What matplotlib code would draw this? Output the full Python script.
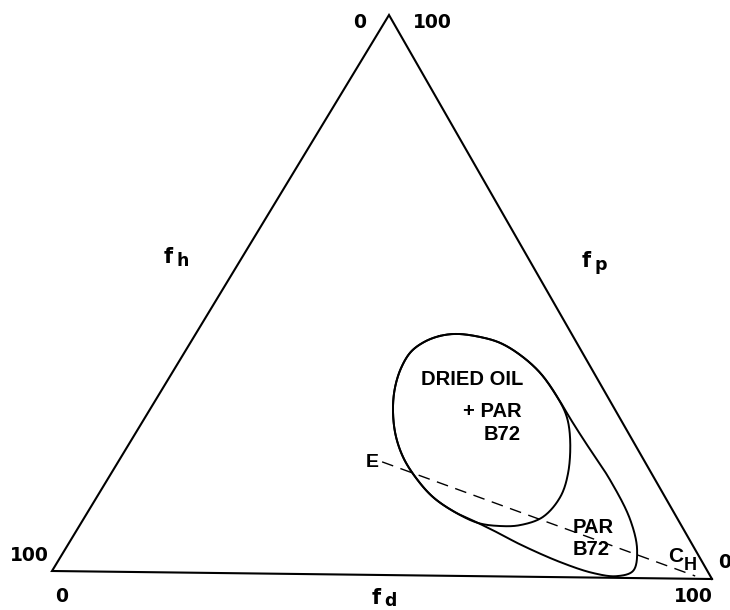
import numpy as np
import matplotlib
matplotlib.use("Agg")
import matplotlib.pyplot as plt

# Teas fractional solubility parameters in percent; fh = 100 - fd - fp
# Region: dried oil + Paraloid B72
oil_fd = [36.9, 39.3, 43.1, 46.6, 50.7, 55.4, 60.3, 63.4, 66.0, 68.7, 69.7,
          68.9, 66.2, 63.3, 59.7, 55.2, 50.6, 46.5, 42.6, 39.3, 36.6, 34.9,
          34.0, 34.0, 35.1]
oil_fp = [42.8, 43.2, 42.7, 41.7, 39.6, 36.4, 32.0, 28.6, 24.5, 18.6, 14.3,
          10.7, 9.2, 9.0, 9.5, 11.4, 14.0, 17.2, 20.9, 25.0, 29.5, 33.4,
          37.0, 39.9, 41.7]

# Region: Paraloid B72
b72_fd = [36.9, 39.3, 43.1, 46.6, 50.7, 55.4, 60.3, 64.3, 68.2, 75.6, 82.3,
          86.1, 87.4, 85.4, 81.6, 75.6, 67.9, 64.0, 59.7, 55.2, 50.6, 46.5,
          42.6, 39.3, 36.6, 34.9, 34.0, 34.0, 35.1]
b72_fp = [42.8, 43.2, 42.7, 41.7, 39.6, 36.4, 32.0, 28.1, 24.4, 17.5, 10.4,
          5.0, 1.3, 0.3, 0.8, 2.7, 5.8, 7.6, 9.5, 11.4, 14.0, 17.2, 20.9,
          25.0, 29.5, 33.4, 37.0, 39.9, 41.7]

# Line from E towards the hydrocarbon corner C_H
line_fd = [39.7, 97.2]
line_fp = [20.2, 0.5]

# Corner values
axis_min = "0"
axis_max = "100"

# Corner positions of the triangle on the canvas: fd = 100, fp = 100, fh = 100
CORNER_FD = np.array([712.0, 579.0])
CORNER_FP = np.array([389.0, 15.0])
CORNER_FH = np.array([52.0, 571.0])


def to_xy(fd, fp):
    fd = np.asarray(fd, float) / 100.0
    fp = np.asarray(fp, float) / 100.0
    fh = 1.0 - fd - fp
    x = fd * CORNER_FD[0] + fp * CORNER_FP[0] + fh * CORNER_FH[0]
    y = fd * CORNER_FD[1] + fp * CORNER_FP[1] + fh * CORNER_FH[1]
    return x, y


def smooth_closed(x, y, n=30, alpha=0.5):
    """Closed centripetal Catmull-Rom curve through the given points."""
    pts = np.column_stack([x, y])
    m = len(pts)
    segs = []
    for i in range(m):
        p0, p1, p2, p3 = pts[(i - 1) % m], pts[i], pts[(i + 1) % m], pts[(i + 2) % m]
        t0 = 0.0
        t1 = t0 + np.linalg.norm(p1 - p0) ** alpha
        t2 = t1 + np.linalg.norm(p2 - p1) ** alpha
        t3 = t2 + np.linalg.norm(p3 - p2) ** alpha
        t = np.linspace(t1, t2, n, endpoint=False)[:, None]
        a1 = (t1 - t) / (t1 - t0) * p0 + (t - t0) / (t1 - t0) * p1
        a2 = (t2 - t) / (t2 - t1) * p1 + (t - t1) / (t2 - t1) * p2
        a3 = (t3 - t) / (t3 - t2) * p2 + (t - t2) / (t3 - t2) * p3
        b1 = (t2 - t) / (t2 - t0) * a1 + (t - t0) / (t2 - t0) * a2
        b2 = (t3 - t) / (t3 - t1) * a2 + (t - t1) / (t3 - t1) * a3
        segs.append((t2 - t) / (t2 - t1) * b1 + (t - t1) / (t2 - t1) * b2)
    segs.append(pts[:1])
    out = np.vstack(segs)
    return out[:, 0], out[:, 1]


fig = plt.figure(figsize=(7.3, 6.1), dpi=100)
ax = fig.add_axes([0, 0, 1, 1])
ax.set_xlim(0, 730)
ax.set_ylim(610, 0)
ax.axis("off")

# Triangle outline
tx, ty = to_xy([100, 0, 0, 100], [0, 100, 0, 0])
ax.plot(tx, ty, color="black", lw=1.5, solid_joinstyle="miter")

# Solubility regions
for fd, fp in ((b72_fd, b72_fp), (oil_fd, oil_fp)):
    x, y = to_xy(fd, fp)
    sx, sy = smooth_closed(x, y)
    ax.plot(sx, sy, color="black", lw=1.4)

# Dashed E – C_H line
lx, ly = to_xy(line_fd, line_fp)
ax.plot(lx, ly, color="black", lw=1.0, linestyle=(0, (8.5, 5.5)))

num = dict(family="DejaVu Sans", fontweight="bold", fontsize=13.5,
           va="baseline", color="black")
ax.text(360, 28, axis_min, ha="center", **num)
ax.text(413, 28, axis_max, ha="left", **num)
ax.text(49, 561, axis_max, ha="right", **num)
ax.text(62, 602, axis_min, ha="center", **num)
ax.text(718, 568, axis_min, ha="left", **num)
ax.text(693, 602, axis_max, ha="center", **num)

# Axis names f_h, f_p, f_d
fbig = dict(family="DejaVu Sans", fontweight="bold", fontsize=15,
            va="baseline", ha="left", color="black")
fsub = dict(family="DejaVu Sans", fontweight="bold", fontsize=12.5,
            va="baseline", ha="left", color="black")
for (xf, yf, sub) in ((164, 263, "h"), (582, 267, "p"), (372, 604, "d")):
    ax.text(xf, yf, "f", **fbig)
    ax.text(xf + 12, yf + 2.5, sub, **fsub)

lab = dict(family="Liberation Sans", fontweight="bold", fontsize=14.5,
           va="baseline", color="black")
ax.text(523, 385, "DRIED OIL", ha="right", **lab)
ax.text(522, 417, "+ PAR", ha="right", **lab)
ax.text(521, 440, "B72", ha="right", **lab)
ax.text(573, 533, "PAR", ha="left", **lab)
ax.text(573, 555, "B72", ha="left", **lab)

small = dict(family="Liberation Sans", fontweight="bold", va="baseline",
             ha="left", color="black")
ax.text(366, 467, "E", fontsize=14, **small)
ax.text(668, 562, "C", fontsize=15, **small)
ax.text(684, 570, "H", fontsize=13, **small)

fig.savefig("out.png", dpi=100, facecolor="white")
